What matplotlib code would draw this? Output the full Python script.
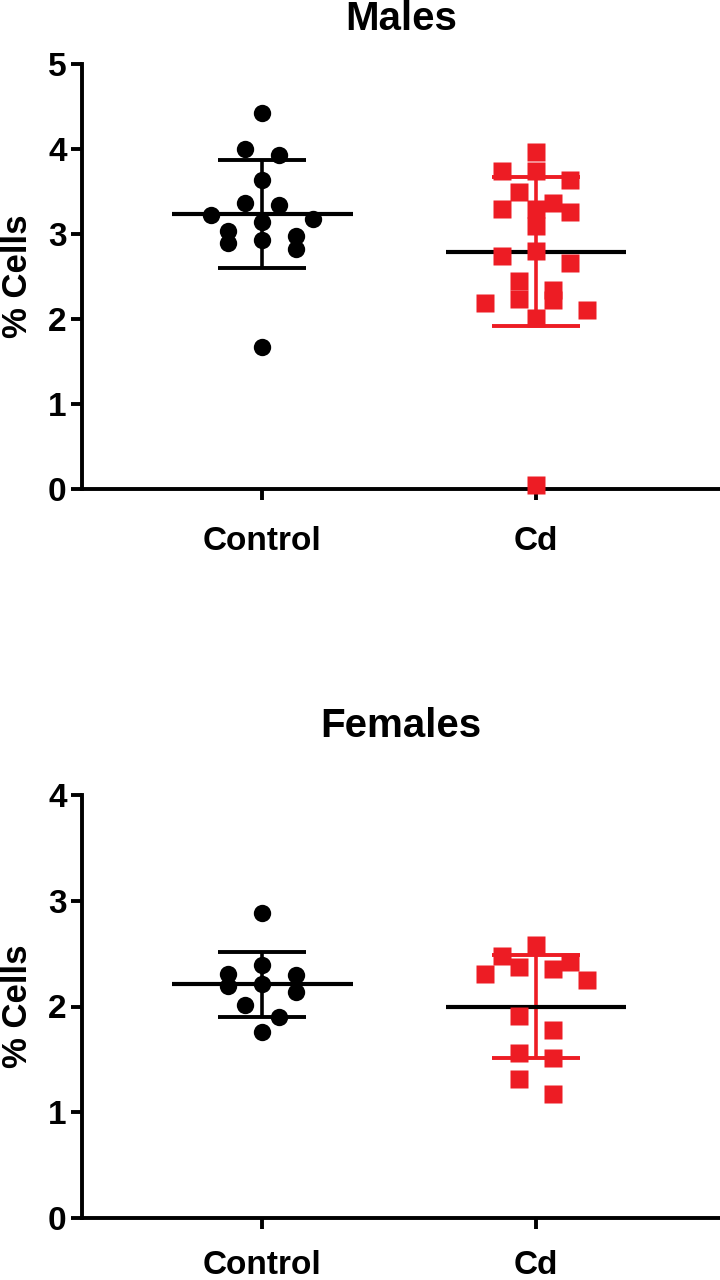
import numpy as np
import matplotlib
matplotlib.use("Agg")
import matplotlib.pyplot as plt

plt.rcParams['font.family'] = ['Liberation Sans', 'DejaVu Sans']
plt.rcParams['font.weight'] = 'bold'

# values (% cells)
groups = ['Control', 'Cd']
male_control = [4.42, 4.00, 3.93, 3.64, 3.36, 3.34, 3.18, 3.14, 3.22,
                3.03, 2.98, 2.93, 2.90, 2.82, 1.67]
male_cd = [3.96, 3.74, 3.74, 3.63, 3.50, 3.37, 3.29, 3.29, 3.26, 3.09,
           2.80, 2.74, 2.66, 2.45, 2.34, 2.23, 2.22, 2.19, 2.11, 2.01, 0.05]
female_control = [2.88, 2.39, 2.31, 2.30, 2.21, 2.19, 2.14, 2.01, 1.90, 1.76]
female_cd = [2.58, 2.48, 2.42, 2.37, 2.35, 2.31, 2.25, 1.91, 1.78,
             1.56, 1.51, 1.31, 1.17]

BLACK = '#000000'
RED = '#ED1C24'
W, H = 720, 1280
MARKER_PX = 17


def swarm_x(values, center, ax):
    # column scatter: group points top-down into rows one marker high,
    # then spread each row symmetrically, two marker widths apart
    pos = ax.get_position()
    xr = ax.get_xlim()
    yr = ax.get_ylim()
    px_x = pos.width * W / (xr[1] - xr[0])
    px_y = pos.height * H / (yr[1] - yr[0])
    row_h = MARKER_PX / px_y
    values = np.asarray(values)
    order = np.argsort(-values)
    xs = np.zeros(len(values))
    i = 0
    while i < len(order):
        j = i
        while j < len(order) and values[order[i]] - values[order[j]] < row_h:
            j += 1
        idx = order[i:j]
        n = len(idx)
        if n % 2:
            slots = [0] + [s * k for k in range(2, n + 1, 2) for s in (-1, 1)]
        else:
            slots = [s * k for k in range(1, n + 1, 2) for s in (-1, 1)]
        for k, p in enumerate(idx):
            xs[p] = center + slots[k] * MARKER_PX / px_x
        i = j
    return xs


def draw_panel(ax, data, ymax, title, title_y, label_pad):
    ax.set_xlim(0.34, 2.673)
    ax.set_ylim(0, ymax)
    markers = ['o', 's']
    colors = [BLACK, RED]
    for i, vals in enumerate(data):
        x0 = i + 1
        m = np.mean(vals)
        sd = np.std(vals, ddof=1)
        ax.errorbar(x0, m, yerr=sd, color=colors[i], lw=2.6, capsize=32,
                    capthick=2.8, zorder=2)
        ax.hlines(m, x0 - 0.33, x0 + 0.33, color=BLACK, lw=3.0, zorder=2)
        xs = swarm_x(vals, x0, ax)
        ax.plot(xs, vals, ls='none', marker=markers[i], ms=12.5,
                mfc=colors[i], mec='none', zorder=3, clip_on=False)

    ax.set_xticks([1, 2])
    ax.set_xticklabels(groups)
    ax.set_yticks(np.arange(0, ymax + 1))
    for s in ['top', 'right']:
        ax.spines[s].set_visible(False)
    for s in ['left', 'bottom']:
        ax.spines[s].set_linewidth(2.8)
    ax.tick_params(axis='both', length=8, width=2.8, labelsize=24)
    ax.tick_params(axis='x', pad=label_pad)
    ax.tick_params(axis='y', pad=3)
    pos = ax.get_position()
    fig.text(18 / W, pos.y0 + pos.height / 2, '% Cells', rotation=90,
             ha='center', va='center', fontsize=25, fontweight='bold')
    fig.text(401 / W, title_y, title, ha='center', va='baseline',
             fontsize=29, fontweight='bold')


fig = plt.figure(figsize=(7.2, 12.8), dpi=100)
ax1 = fig.add_axes([82 / W, 1 - 489 / H, (W - 82) / W, (489 - 64) / H])
ax2 = fig.add_axes([82 / W, 1 - 1218 / H, (W - 82) / W, (1218 - 795) / H])

draw_panel(ax1, [male_control, male_cd], 5, 'Males', 1 - 30 / H, 19)
draw_panel(ax2, [female_control, female_cd], 4, 'Females', 1 - 737 / H, 15)

fig.savefig('out.png', dpi=100)
